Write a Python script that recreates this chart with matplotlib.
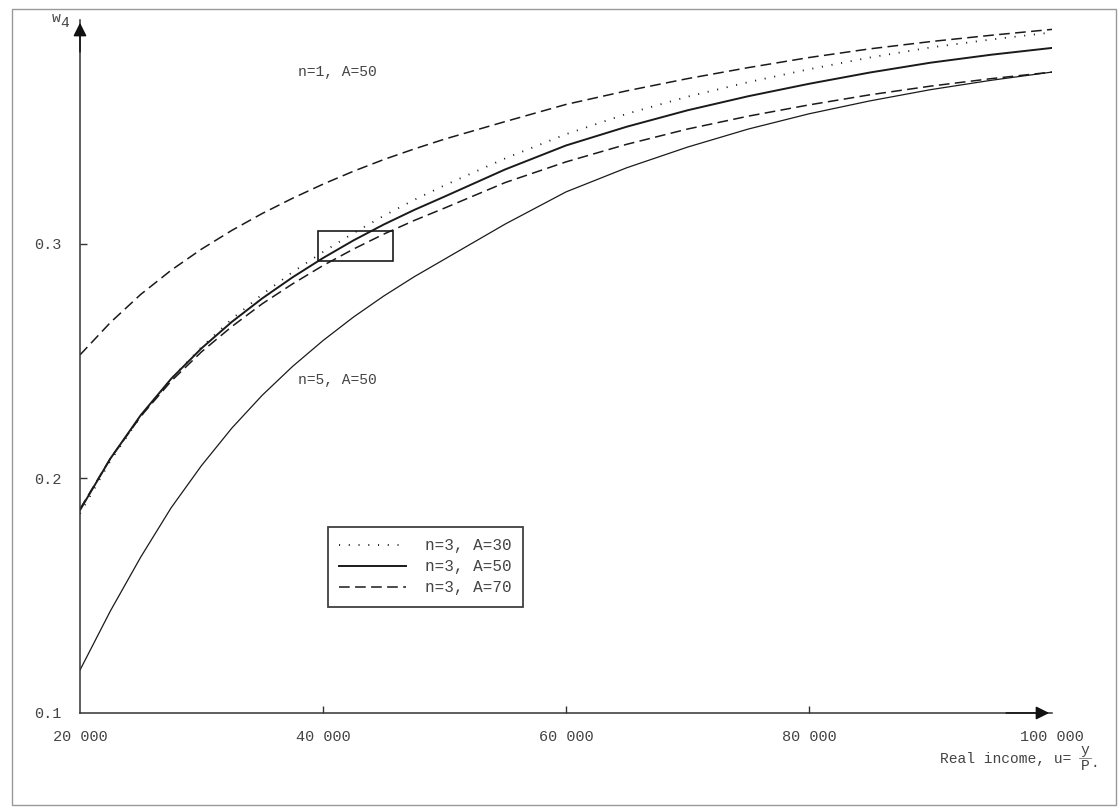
import matplotlib
matplotlib.use("Agg")
import matplotlib.pyplot as plt
from matplotlib.patches import Rectangle

plt.rcParams['font.family'] = ['Liberation Mono', 'DejaVu Sans Mono']

# real income u (x values)
income = [20000, 22500, 25000, 27500, 30000, 32500, 35000, 37500, 40000,
          42500, 45000, 47500, 50000, 55000, 60000, 65000, 70000, 75000,
          80000, 85000, 90000, 95000, 100000]

# budget share w4 for each case
w_n1_a50 = [0.2527, 0.2665, 0.2785, 0.2888, 0.2978, 0.3058, 0.3130, 0.3195,
            0.3255, 0.3310, 0.3360, 0.3405, 0.3447, 0.3522, 0.3595, 0.3653,
            0.3705, 0.3752, 0.3795, 0.3832, 0.3863, 0.3890, 0.3915]
w_n3_a30 = [0.1850, 0.2075, 0.2265, 0.2425, 0.2560, 0.2680, 0.2785, 0.2880,
            0.2966, 0.3046, 0.3120, 0.3188, 0.3250, 0.3365, 0.3468, 0.3555,
            0.3628, 0.3690, 0.3745, 0.3795, 0.3838, 0.3872, 0.3902]
w_n3_a50 = [0.1865, 0.2085, 0.2270, 0.2425, 0.2555, 0.2668, 0.2768, 0.2858,
            0.2940, 0.3015, 0.3083, 0.3145, 0.3202, 0.3318, 0.3420, 0.3500,
            0.3570, 0.3630, 0.3683, 0.3731, 0.3773, 0.3807, 0.3836]
w_n3_a70 = [0.1870, 0.2085, 0.2265, 0.2415, 0.2540, 0.2648, 0.2745, 0.2830,
            0.2908, 0.2978, 0.3042, 0.3100, 0.3153, 0.3262, 0.3350, 0.3425,
            0.3490, 0.3545, 0.3593, 0.3636, 0.3673, 0.3705, 0.3733]
w_n5_a50 = [0.1183, 0.1435, 0.1665, 0.1875, 0.2055, 0.2215, 0.2355, 0.2478,
            0.2588, 0.2688, 0.2778, 0.2860, 0.2935, 0.3085, 0.3222, 0.3325,
            0.3413, 0.3490, 0.3555, 0.3610, 0.3658, 0.3698, 0.3733]

xticks = [20000, 40000, 60000, 80000, 100000]
xtick_labels = ['20 000', '40 000', '60 000', '80 000', '100 000']
yticks = [0.1, 0.2, 0.3]
ytick_labels = ['0.1', '0.2', '0.3']

# the small box drawn around the crossing region
box_x = (39600, 45800)
box_y = (0.2928, 0.3055)

ink = '#1a1a1a'
grey = '#444444'

fig = plt.figure(figsize=(11.18, 8.07), dpi=100)
ax = fig.add_axes([80 / 1118, 0.1165, 972 / 1118, 0.8587])

ax.plot(income, w_n1_a50, color=ink, lw=1.1, dashes=(7, 3.5))
l30, = ax.plot(income, w_n3_a30, color=ink, lw=1.3, dashes=(0.6, 4.8),
               label='n=3, A=30')
l50, = ax.plot(income, w_n3_a50, color=ink, lw=1.4, label='n=3, A=50')
l70, = ax.plot(income, w_n3_a70, color=ink, lw=1.1, dashes=(7, 3.5),
               label='n=3, A=70')
ax.plot(income, w_n5_a50, color=ink, lw=0.9)

ax.add_patch(Rectangle((box_x[0], box_y[0]), box_x[1] - box_x[0],
                       box_y[1] - box_y[0], fill=False, ec=ink, lw=1.2))

ax.set_xlim(20000, 100000)
ax.set_ylim(0.1, 0.3955)
ax.spines['top'].set_visible(False)
ax.spines['right'].set_visible(False)
for s in ('left', 'bottom'):
    ax.spines[s].set_color('#333333')
    ax.spines[s].set_linewidth(1.1)

ax.set_xticks(xticks)
ax.set_xticklabels(xtick_labels)
ax.set_yticks(yticks)
ax.set_yticklabels(ytick_labels)
ax.tick_params(axis='x', direction='in', length=5, width=1, pad=12,
               labelsize=11, labelcolor=grey, color='#333333')
ax.tick_params(axis='y', direction='in', length=5, width=1, pad=13,
               labelsize=11, labelcolor=grey, color='#333333')
# no tick marks at the corner or under the arrow
for t in (ax.xaxis.get_major_ticks()[0], ax.xaxis.get_major_ticks()[-1],
          ax.yaxis.get_major_ticks()[0]):
    t.tick1line.set_visible(False)

# arrow heads at the ends of the axes
ax.annotate('', xy=(0, 1), xytext=(0, 0.95), xycoords='axes fraction',
            arrowprops=dict(arrowstyle='-|>', color='#111111', lw=1.1,
                            mutation_scale=20))
ax.annotate('', xy=(1, 0), xytext=(0.95, 0), xycoords='axes fraction',
            arrowprops=dict(arrowstyle='-|>', color='#111111', lw=1.1,
                            mutation_scale=20))

ax.text(37960, 0.3733, 'n=1, A=50', fontsize=10.5, color=grey, va='center')
ax.text(37960, 0.242, 'n=5, A=50', fontsize=10.5, color=grey, va='center')

leg = ax.legend(handles=[l30, l50, l70], loc='upper left',
                bbox_to_anchor=(328 / 1118, 1 - 527 / 807),
                bbox_transform=fig.transFigure, borderaxespad=0,
                fancybox=False, frameon=True, fontsize=11.5,
                handlelength=4.2, handletextpad=1.2, labelspacing=0.38,
                borderpad=0.7, labelcolor=grey)
leg.get_frame().set_edgecolor('#111111')
leg.get_frame().set_linewidth(1.3)

# y-axis name
fig.text(56 / 1118, 1 - 18 / 807, 'w', fontsize=10.5, color=grey,
         ha='center', va='center')
fig.text(65 / 1118, 1 - 23 / 807, '4', fontsize=10.5, color=grey,
         ha='center', va='center')

# x-axis name with the y/P fraction
fig.text(1071 / 1118, 1 - 759 / 807, 'Real income, u=', fontsize=10.5,
         color=grey, ha='right', va='center')
fig.text(1085 / 1118, 1 - 750 / 807, 'y', fontsize=10.5, color=grey,
         ha='center', va='center')
fig.text(1085 / 1118, 1 - 766 / 807, 'P', fontsize=10.5, color=grey,
         ha='center', va='center')
fig.add_artist(plt.Line2D([1079 / 1118, 1091 / 1118],
                          [1 - 758 / 807, 1 - 758 / 807],
                          color='#777777', lw=0.6))
fig.text(1095 / 1118, 1 - 763 / 807, '.', fontsize=10.5, color=grey,
         ha='center', va='center')

# scan border around the page
fig.add_artist(Rectangle((12 / 1118, 2 / 807), 1104 / 1118, 796 / 807,
                         transform=fig.transFigure, fill=False,
                         ec='#999999', lw=1))

fig.savefig('out.png', dpi=100)
